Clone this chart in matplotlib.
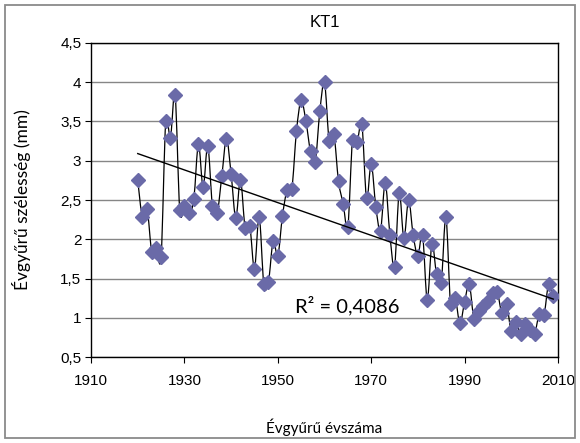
import numpy as np
import matplotlib.pyplot as plt
from matplotlib.path import Path
from matplotlib.patches import PathPatch, Rectangle
from matplotlib.ticker import FuncFormatter, MultipleLocator

# tree ring width per year (mm)
years = np.arange(1920, 2010)
widths = [2.75, 2.28, 2.39, 1.84, 1.89, 1.78, 3.50, 3.29, 3.84, 2.37,
          2.42, 2.33, 2.51, 3.21, 2.66, 3.19, 2.42, 2.33, 2.80, 3.28,
          2.83, 2.27, 2.76, 2.14, 2.17, 1.62, 2.29, 1.43, 1.46, 1.98,
          1.79, 2.30, 2.63, 2.64, 3.38, 3.77, 3.51, 3.12, 2.98, 3.63,
          4.00, 3.25, 3.34, 2.74, 2.45, 2.16, 3.27, 3.24, 3.47, 2.52,
          2.96, 2.41, 2.11, 2.72, 2.06, 1.65, 2.59, 2.01, 2.50, 2.05,
          1.79, 2.06, 1.23, 1.94, 1.56, 1.44, 2.28, 1.17, 1.25, 0.93,
          1.20, 1.43, 0.99, 1.09, 1.15, 1.22, 1.32, 1.33, 1.06, 1.17,
          0.83, 0.95, 0.79, 0.92, 0.85, 0.80, 1.05, 1.03, 1.43, 1.28]
widths = np.array(widths)

xticks = [1910, 1930, 1950, 1970, 1990, 2010]

title = "KT1"
xlabel = "Évgyűrű évszáma"
ylabel = "Évgyűrű szélesség (mm)"
r2_text = "R² = 0,4086"

label_font = ["Lato", "DejaVu Sans"]
tick_font = ["Liberation Sans", "DejaVu Sans"]


def smooth_path(x, y):
    # Excel-style smoothed line: Catmull-Rom as cubic Bezier segments
    pts = np.column_stack([x, y])
    n = len(pts)
    verts = [pts[0]]
    codes = [Path.MOVETO]
    for i in range(n - 1):
        p0 = pts[max(i - 1, 0)]
        p1 = pts[i]
        p2 = pts[i + 1]
        p3 = pts[min(i + 2, n - 1)]
        verts += [p1 + (p2 - p0) / 6, p2 - (p3 - p1) / 6, p2]
        codes += [Path.CURVE4] * 3
    return Path(verts, codes)


fig = plt.figure(figsize=(5.8, 4.43), dpi=100)
ax = fig.add_axes([0.157, 0.194, 0.805, 0.709])

ax.set_xlim(1910, 2010)
ax.set_ylim(0.5, 4.5)
ax.set_xticks(xticks)
ax.yaxis.set_major_locator(MultipleLocator(0.5))
ax.yaxis.set_major_formatter(FuncFormatter(lambda v, p: f"{v:g}".replace(".", ",")))
ax.grid(axis="y", color="#868686", lw=1.0)
ax.set_axisbelow(True)

for s in ax.spines.values():
    s.set_color("black")
    s.set_linewidth(1.0)
ax.tick_params(direction="out", length=4, width=0.8, color="black", labelsize=11)
ax.tick_params(axis="x", pad=8)
ax.tick_params(axis="y", pad=3)
for lab in ax.get_xticklabels() + ax.get_yticklabels():
    lab.set_family(tick_font)

# smoothed series line + markers
ax.add_patch(PathPatch(smooth_path(years, widths), fill=False, ec="black", lw=0.9, zorder=2))
ax.plot(years, widths, ls="none", marker="D", ms=7, mfc="#6a6aa8", mec="#6a6aa8", zorder=3)

# linear trend line
k, b = np.polyfit(years, widths, 1)
tx = np.array([years[0], years[-1]])
ax.plot(tx, k * tx + b, color="black", lw=1.0, zorder=4)

ax.text(1953.6, 1.16, r2_text, fontsize=14.5, family=label_font, va="center", ha="left")

ax.set_xlabel(xlabel, fontsize=11, family=label_font)
ax.set_ylabel(ylabel, fontsize=12.5, family=label_font)
ax.xaxis.set_label_coords(0.5, -0.196)
ax.yaxis.set_label_coords(-0.128, 0.5)

fig.text(0.5595, 0.950, title, ha="center", va="center", fontsize=12, family=tick_font)

fig.patches.append(Rectangle((0.009, 0.011), 0.982, 0.978, transform=fig.transFigure,
                             fill=False, ec="#8a8a8a", lw=1.3))

fig.savefig("out.png", dpi=100)
